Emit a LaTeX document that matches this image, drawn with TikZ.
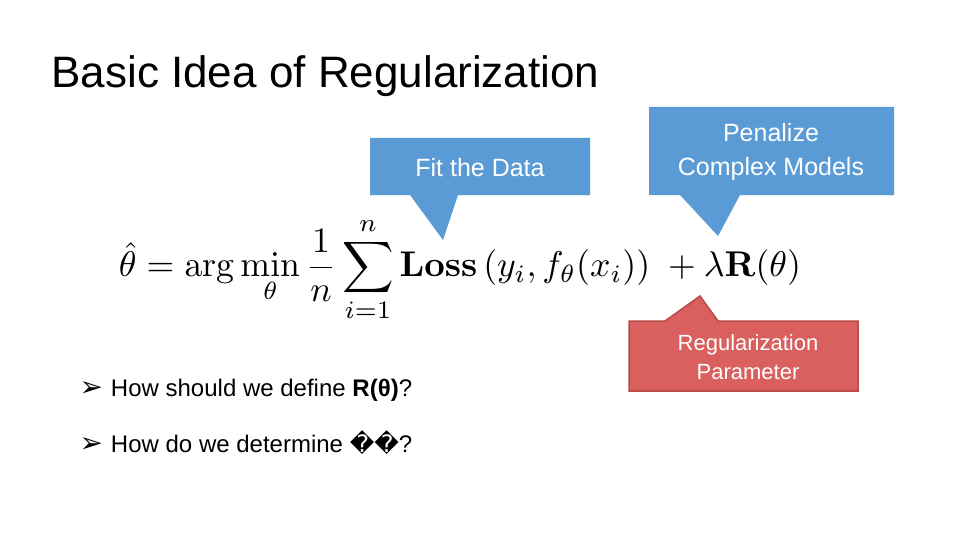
\documentclass[tikz,border=0pt]{standalone}
\usepackage{amsmath}
\usepackage[no-math]{fontspec}
\setmainfont{Liberation Sans}
\newfontfamily\dejavu{DejaVu Sans}
\definecolor{cblue}{HTML}{5B9BD5}
\definecolor{cred}{HTML}{D9605F}
\definecolor{credb}{HTML}{B84A48}
\begin{document}
\begin{tikzpicture}[x=1pt,y=-1pt,
  callout/.style={fill=cblue},
  lbl/.style={text=white,font=\fontsize{25}{34}\selectfont,align=center},
  txt/.style={anchor=west,font=\fontsize{24}{30}\selectfont}]
\useasboundingbox[fill=white] (0,0) rectangle (960,540);
\node[anchor=west,font=\fontsize{44}{50}\selectfont] (title) at (48,76) {Basic Idea of Regularization};
\fill[callout] (370,138) -- (590,138) -- (590,195) -- (458,195) -- (443,240) -- (410,195) -- (370,195) -- cycle;
\node[lbl] (fit) at (480,168) {Fit the Data};
\fill[callout] (649,107) -- (894,107) -- (894,195) -- (740,195) -- (718,236) -- (680,195) -- (649,195) -- cycle;
\node[lbl] (pen) at (771,152) {Penalize\\Complex Models};
\filldraw[fill=cred,draw=credb,line width=1.5] (629,321) -- (665,321) -- (700,296) -- (718,321) -- (858,321) -- (858,391) -- (629,391) -- cycle;
\node[lbl,font=\fontsize{22}{29}\selectfont] (reg) at (748,357) {Regularization\\Parameter};
\node (eq) at (460,270) {\resizebox{682pt}{!}{$\displaystyle \hat{\theta}=\arg\min_{\theta}\frac{1}{n}\sum_{i=1}^{n}\mathbf{Loss}\left(y_i,f_\theta(x_i)\right)\;+\lambda\mathbf{R}(\theta)$}};
\node[txt] (b1) at (76,390) {{\dejavu\fontsize{28}{28}\selectfont ➢}\hspace{8pt}How should we define \textbf{R(θ)}?};
\node[txt] (b2) at (76,443) {{\dejavu\fontsize{28}{28}\selectfont ➢}\hspace{8pt}How do we determine {\dejavu ��}?};
\end{tikzpicture}
\end{document}
